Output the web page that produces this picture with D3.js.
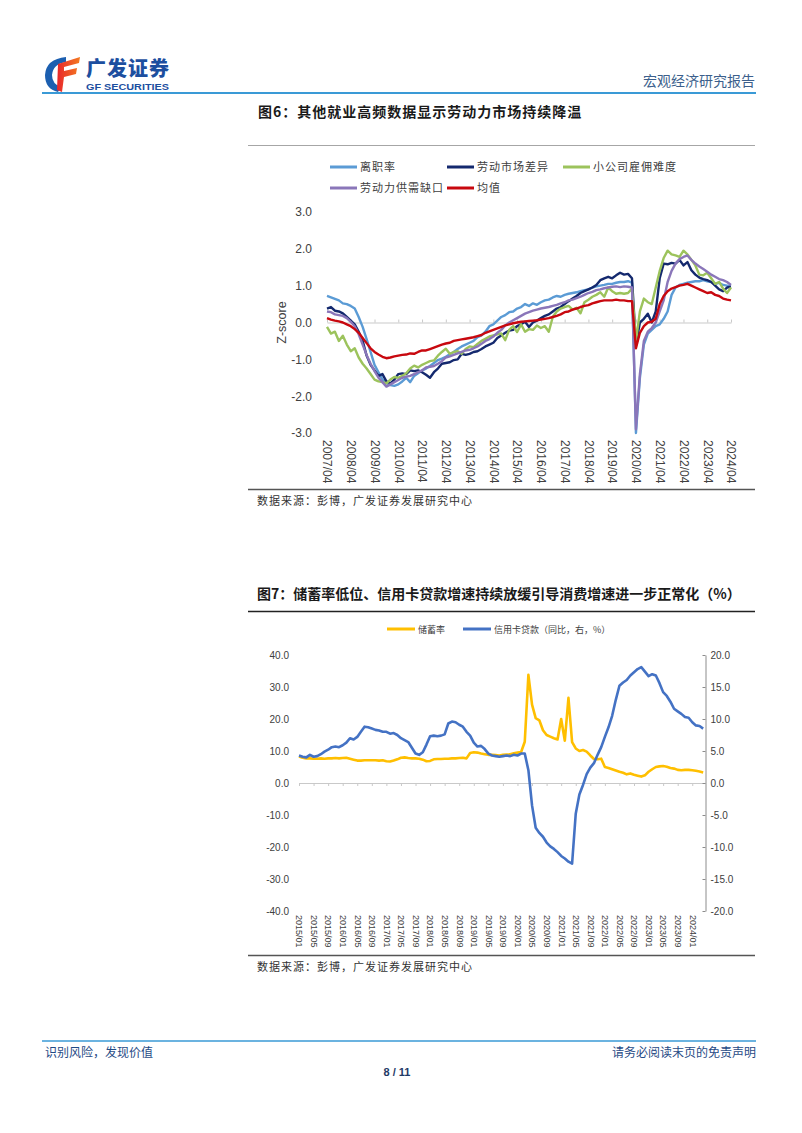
<!DOCTYPE html>
<html><head><meta charset="utf-8">
<script src="https://cdn.jsdelivr.net/npm/d3@7"></script>
<style>body{margin:0;background:#fff}svg{display:block}</style>
</head><body>
<svg id="page" width="802" height="1133"></svg>
<script>
// ---------- Figure 6 data (bimonthly from 2007/04 to 2024/04) ----------
const fig6TickLabels = ["2007/04","2008/04","2009/04","2010/04","2011/04","2012/04","2013/04","2014/04","2015/04","2016/04","2017/04","2018/04","2019/04","2020/04","2021/04","2022/04","2023/04","2024/04"];
const fig6Names = ["离职率","劳动市场差异","小公司雇佣难度","劳动力供需缺口","均值"];
const quitRate = [0.72,0.68,0.64,0.60,0.52,0.50,0.45,0.38,0.15,-0.12,
 -0.45,-0.80,-1.15,-1.35,-1.55,-1.65,-1.70,-1.72,-1.68,-1.60,
 -1.50,-1.62,-1.45,-1.38,-1.30,-1.25,-1.18,-1.10,-1.02,-0.98,
 -0.93,-0.86,-0.80,-0.72,-0.65,-0.60,-0.55,-0.50,-0.40,-0.35,
 -0.25,-0.10,-0.05,0.05,0.15,0.20,0.28,0.30,0.38,0.42,
 0.50,0.45,0.52,0.48,0.55,0.60,0.62,0.68,0.72,0.70,
 0.75,0.78,0.80,0.82,0.85,0.88,0.90,0.95,0.98,1.00,
 1.02,1.05,1.05,1.08,1.10,1.10,1.12,1.08,-3.00,-1.50,
 -0.60,-0.30,-0.20,-0.10,-0.05,0.10,0.30,0.75,0.95,1.02,
 1.05,1.08,1.10,1.12,1.12,1.15,1.12,1.10,1.05,1.08,
 1.02,1.00,0.98];
const laborDiff = [0.38,0.42,0.32,0.30,0.25,0.15,0.05,-0.05,-0.25,-0.50,
 -0.90,-1.15,-1.30,-1.45,-1.40,-1.60,-1.65,-1.55,-1.40,-1.38,
 -1.40,-1.30,-1.32,-1.30,-1.35,-1.42,-1.50,-1.35,-1.25,-1.12,
 -1.10,-1.08,-1.02,-1.00,-0.85,-0.88,-0.85,-0.80,-0.78,-0.72,
 -0.65,-0.60,-0.55,-0.42,-0.35,-0.28,-0.22,-0.20,-0.10,-0.05,
 0.02,-0.12,0.00,0.05,0.12,0.18,0.22,0.30,0.38,0.42,
 0.50,0.58,0.65,0.72,0.80,0.85,0.90,0.95,1.02,1.15,
 1.20,1.24,1.20,1.28,1.35,1.30,1.32,1.20,-0.60,0.00,
 0.10,0.24,0.00,0.30,1.20,1.60,1.58,1.62,1.60,1.70,
 1.55,1.64,1.42,1.30,1.22,1.18,1.15,1.10,1.00,0.90,
 0.85,0.95,0.97];
const smallBizHiring = [-0.12,-0.30,-0.25,-0.50,-0.36,-0.60,-0.78,-0.70,-0.95,-1.12,
 -1.25,-1.40,-1.55,-1.60,-1.62,-1.65,-1.55,-1.48,-1.50,-1.45,
 -1.38,-1.25,-1.17,-1.22,-1.15,-1.10,-1.05,-1.03,-0.90,-0.80,
 -0.71,-0.85,-0.80,-0.78,-0.85,-0.72,-0.65,-0.67,-0.58,-0.50,
 -0.44,-0.38,-0.35,-0.32,-0.30,-0.48,-0.20,-0.10,-0.26,-0.05,
 -0.25,-0.18,-0.20,-0.08,-0.15,-0.10,-0.25,0.15,0.30,0.38,
 0.42,0.45,0.35,0.40,0.25,0.55,0.62,0.70,0.75,0.82,
 0.70,0.95,0.85,0.78,0.80,0.78,0.80,0.92,-0.50,0.30,
 0.65,0.55,0.50,0.95,1.40,1.75,1.95,1.85,1.82,1.78,
 1.95,1.85,1.70,1.55,1.30,1.28,1.35,1.20,1.05,1.10,
 0.92,0.80,0.95];
const laborGap = [0.30,0.28,0.22,0.20,0.18,0.12,0.02,-0.10,-0.32,-0.60,
 -0.88,-1.12,-1.32,-1.50,-1.62,-1.74,-1.68,-1.62,-1.56,-1.50,
 -1.47,-1.45,-1.40,-1.35,-1.30,-1.22,-1.20,-1.18,-1.12,-1.05,
 -0.95,-0.92,-0.88,-0.84,-0.80,-0.76,-0.74,-0.70,-0.65,-0.58,
 -0.50,-0.45,-0.38,-0.28,-0.20,-0.08,0.00,0.06,0.12,0.18,
 0.24,0.28,0.32,0.35,0.38,0.40,0.42,0.45,0.48,0.52,
 0.55,0.60,0.62,0.66,0.70,0.75,0.80,0.83,0.88,0.90,
 0.93,0.95,0.97,0.98,0.96,0.98,0.97,0.95,-2.90,-1.40,
 -0.50,-0.25,-0.15,0.00,0.30,0.60,1.10,1.40,1.60,1.72,
 1.78,1.82,1.70,1.60,1.52,1.45,1.38,1.30,1.24,1.18,
 1.15,1.10,1.02];
const meanScore = [0.12,0.08,0.05,0.03,0.00,-0.05,-0.10,-0.18,-0.28,-0.42,
 -0.56,-0.70,-0.80,-0.87,-0.93,-0.97,-0.95,-0.92,-0.90,-0.88,
 -0.87,-0.84,-0.85,-0.80,-0.76,-0.76,-0.72,-0.68,-0.64,-0.60,
 -0.57,-0.55,-0.50,-0.48,-0.46,-0.44,-0.42,-0.40,-0.37,-0.34,
 -0.28,-0.24,-0.20,-0.16,-0.12,-0.08,-0.05,-0.02,0.00,0.02,
 0.03,0.04,0.05,0.06,0.08,0.10,0.12,0.15,0.18,0.22,
 0.28,0.30,0.35,0.38,0.42,0.45,0.47,0.52,0.55,0.58,
 0.60,0.60,0.60,0.62,0.60,0.60,0.58,0.58,-0.70,-0.28,
 -0.10,0.00,0.02,0.10,0.50,0.72,0.85,0.92,0.96,1.00,
 1.02,1.05,1.00,0.95,0.90,0.85,0.80,0.82,0.75,0.72,
 0.65,0.62,0.60];
const fig6Colors = ["#5b9bd5","#14296e","#9cc35c","#8a76b9","#c8080f"];
const fig6YTicks = [3,2,1,0,-1,-2,-3];

// ---------- Figure 7 data (monthly from 2015/01 to 2024/04) ----------
const fig7TickLabels = ["2015/01","2015/05","2015/09","2016/01","2016/05","2016/09","2017/01","2017/05","2017/09","2018/01","2018/05","2018/09","2019/01","2019/05","2019/09","2020/01","2020/05","2020/09","2021/01","2021/05","2021/09","2022/01","2022/05","2022/09","2023/01","2023/05","2023/09","2024/01"];
const fig7Names = ["储蓄率","信用卡贷款（同比，右，%）"];
const savingRate = [8.3,7.9,7.7,7.7,7.6,7.6,7.7,7.6,7.7,7.7,7.8,7.7,
 7.8,7.9,7.6,7.3,7.0,7.0,7.1,7.1,7.1,7.1,7.0,7.1,
 6.8,6.7,7.0,7.4,7.9,8.0,7.8,7.7,7.7,7.6,7.3,6.8,
 6.9,7.4,7.5,7.5,7.6,7.6,7.7,7.7,7.8,7.9,7.7,9.4,
 9.6,9.5,9.2,9.0,8.8,8.8,8.7,8.6,8.8,8.9,9.0,9.3,
 9.5,9.7,12.9,33.8,24.5,20.3,19.6,16.5,15.0,14.5,14.0,13.6,
 20.0,13.2,26.6,12.8,10.8,10.0,10.3,9.8,8.6,7.5,7.4,7.6,
 5.0,4.7,4.3,3.9,3.5,3.2,2.7,3.0,2.6,2.3,2.0,2.4,
 3.5,4.3,5.0,5.2,5.3,5.1,4.7,4.5,4.1,4.0,4.1,4.1,
 4.0,3.8,3.6,3.3];
const creditCardYoY = [4.3,4.1,4.0,4.4,4.1,4.2,4.5,4.9,5.2,5.6,5.7,5.6,
 5.9,6.3,7.0,6.8,7.2,8.0,8.8,8.7,8.5,8.3,8.2,8.0,
 8.0,7.7,7.8,7.5,7.0,6.7,6.4,5.5,4.6,4.4,4.8,6.0,
 7.3,7.4,7.3,7.4,7.6,9.3,9.6,9.5,9.1,8.8,8.0,7.4,
 6.3,5.7,5.8,5.3,4.6,4.3,4.2,4.1,4.2,4.3,4.2,4.4,
 4.3,4.6,4.6,2.0,-3.5,-7.0,-7.8,-8.4,-9.3,-9.9,-10.3,-10.8,
 -11.4,-11.8,-12.3,-12.6,-4.8,-1.8,-0.3,1.4,2.4,3.1,4.4,5.6,
 7.2,8.7,10.5,13.0,15.2,15.7,16.1,16.8,17.3,17.8,18.1,17.4,
 16.7,17.0,16.8,15.6,14.2,13.6,12.7,11.6,11.2,10.8,10.3,10.2,
 9.5,9.0,8.9,8.5];
const fig7Colors = ["#ffbf00","#4472c4"];
const fig7LeftTicks = [40,30,20,10,0,-10,-20,-30,-40];
const fig7RightTicks = [20,15,10,5,0,-5,-10,-15,-20];

// ---------- page ----------
const CJK = "'Noto Sans CJK SC','Noto Sans',sans-serif";
const LAT = "'Liberation Sans',Arial,sans-serif";
const svg = d3.select("#page");
const fmt1 = v => v.toFixed(1);

// header logo
const logo = svg.append("g");
const grad = svg.append("defs").append("linearGradient").attr("id","lg").attr("x1","0").attr("y1","0").attr("x2","1").attr("y2","0");
grad.append("stop").attr("offset","0").attr("stop-color","#e8262b");
grad.append("stop").attr("offset","1").attr("stop-color","#f47a20");
logo.append("path").attr("d","M66 57 Q46 59 45 75 Q45 89 58 92 L61 87 Q52 84 52 75 Q53 64 66 62 Z").attr("fill","#1c5fb0");
logo.append("path").attr("d","M58 64 L80 57 L79 63 L64 67 L64 71 L77 68 L76 74 L64 77 L62 92 L57 90 Z").attr("fill","url(#lg)");
svg.append("text").attr("x",86).attr("y",76).attr("font-family",CJK).attr("font-weight",900).attr("font-size",20).attr("fill","#1d4f9f").attr("textLength",83).text("广发证券");
svg.append("text").attr("x",86).attr("y",90).attr("font-family",LAT).attr("font-weight",700).attr("font-size",9).attr("fill","#1d4f9f").attr("textLength",83).attr("lengthAdjust","spacingAndGlyphs").text("GF SECURITIES");
svg.append("text").attr("x",755).attr("y",86).attr("text-anchor","end").attr("font-family",CJK).attr("font-size",14).attr("fill","#3c5f8c").text("宏观经济研究报告");
svg.append("line").attr("x1",42).attr("x2",756).attr("y1",93).attr("y2",93).attr("stroke","#3a9ad6").attr("stroke-width",2);

// titles
svg.append("text").attr("x",258).attr("y",117).attr("font-family",CJK).attr("font-weight",700).attr("font-size",14).attr("letter-spacing",1).attr("fill","#1a1a1a").text("图6：其他就业高频数据显示劳动力市场持续降温");
svg.append("text").attr("x",257).attr("y",599).attr("font-family",CJK).attr("font-weight",700).attr("font-size",14).attr("fill","#1a1a1a").text("图7：储蓄率低位、信用卡贷款增速持续放缓引导消费增速进一步正常化（%）");

// ---------- Figure 6 ----------
svg.append("line").attr("x1",248).attr("x2",755).attr("y1",145.5).attr("y2",145.5).attr("stroke","#a6a6a6").attr("stroke-width",1);
svg.append("line").attr("x1",248).attr("x2",755).attr("y1",489.5).attr("y2",489.5).attr("stroke","#555").attr("stroke-width",1.3);
svg.append("text").attr("x",257).attr("y",505).attr("font-family",CJK).attr("font-size",11).attr("letter-spacing",1).attr("fill","#333").text("数据来源：彭博，广发证券发展研究中心");

const x6 = d3.scaleLinear().domain([0,204]).range([327,731]);
const y6 = d3.scaleLinear().domain([-3,3]).range([433,212]);
const g6 = svg.append("g");

// zero line with year ticks
const zeroAxis6 = d3.axisTop(x6).tickValues(fig6TickLabels.map((d,i)=>i*12)).tickSize(3).tickSizeOuter(0).tickFormat("");
const za6 = g6.append("g").attr("transform",`translate(0,${y6(0)})`).call(zeroAxis6);
za6.selectAll("path,line").attr("stroke","#c9c9c9");

// y labels
const yAxis6 = d3.axisLeft(y6).tickValues(fig6YTicks).tickSize(0).tickPadding(0).tickFormat(fmt1);
const ya6 = g6.append("g").attr("transform","translate(312,0)").call(yAxis6);
ya6.select(".domain").remove();
ya6.selectAll("text").attr("font-family",LAT).attr("font-size",12).attr("fill","#404040");
g6.append("text").attr("transform",`translate(286,${y6(0)}) rotate(-90)`).attr("text-anchor","middle").attr("font-family",LAT).attr("font-size",12.5).attr("fill","#404040").text("Z-score");

// x labels rotated
const xAxis6 = d3.axisBottom(x6).tickValues(fig6TickLabels.map((d,i)=>i*12)).tickSize(0).tickFormat((d,i)=>fig6TickLabels[i]);
const xa6 = g6.append("g").attr("transform","translate(0,440)").call(xAxis6);
xa6.select(".domain").remove();
xa6.selectAll("text").attr("font-family",LAT).attr("font-size",12).attr("fill","#404040")
  .attr("y",0).attr("x",0).attr("dy","0.35em").attr("text-anchor","start").attr("transform","rotate(90)");

const fig6Data = [quitRate, laborDiff, smallBizHiring, laborGap, meanScore];
const line6 = d3.line().x((d,i)=>x6(i*2)).y(d=>y6(d)).curve(d3.curveLinear);
fig6Data.forEach((s,k)=>{
  g6.append("path").datum(s).attr("d",line6).attr("fill","none").attr("stroke",fig6Colors[k]).attr("stroke-width",2.4).attr("stroke-linejoin","round");
});

// legend fig6
const leg6 = [{x:330,y:167},{x:447,y:167},{x:563,y:167},{x:330,y:188},{x:447,y:188}];
leg6.forEach((p,k)=>{
  g6.append("line").attr("x1",p.x).attr("x2",p.x+27).attr("y1",p.y).attr("y2",p.y).attr("stroke",fig6Colors[k]).attr("stroke-width",3);
  g6.append("text").attr("x",p.x+30).attr("y",p.y+4).attr("font-family",CJK).attr("font-size",11).attr("letter-spacing",1).attr("fill","#404040").text(fig6Names[k]);
});

// ---------- Figure 7 ----------
svg.append("line").attr("x1",248).attr("x2",755).attr("y1",611.5).attr("y2",611.5).attr("stroke","#222").attr("stroke-width",1.5);
svg.append("line").attr("x1",248).attr("x2",755).attr("y1",955.5).attr("y2",955.5).attr("stroke","#555").attr("stroke-width",1.3);
svg.append("text").attr("x",257).attr("y",971).attr("font-family",CJK).attr("font-size",11).attr("letter-spacing",1).attr("fill","#333").text("数据来源：彭博，广发证券发展研究中心");

const x7 = d3.scaleLinear().domain([0,111.5]).range([299,705]);
const yL = d3.scaleLinear().domain([-40,40]).range([911,655]);
const yR = d3.scaleLinear().domain([-20,20]).range([911,655]);
const g7 = svg.append("g");

// zero line with ticks
const zeroAxis7 = d3.axisBottom(x7).tickValues(fig7TickLabels.map((d,i)=>i*4)).tickSize(3).tickSizeOuter(0).tickFormat("");
const za7 = g7.append("g").attr("transform",`translate(0,${yL(0)})`).call(zeroAxis7);
za7.selectAll("path,line").attr("stroke","#c9c9c9");

// left axis labels
const yAxL = d3.axisLeft(yL).tickValues(fig7LeftTicks).tickSize(0).tickPadding(0).tickFormat(fmt1);
const yl = g7.append("g").attr("transform","translate(289,0)").call(yAxL);
yl.select(".domain").remove();
yl.selectAll("text").attr("font-family",LAT).attr("font-size",10).attr("fill","#404040");

// right axis
const yAxR = d3.axisRight(yR).tickValues(fig7RightTicks).tickSizeInner(-3).tickSizeOuter(0).tickPadding(5).tickFormat(fmt1);
const yr = g7.append("g").attr("transform","translate(705.5,0)").call(yAxR);
yr.selectAll("path,line").attr("stroke","#8c8c8c");
yr.selectAll("text").attr("font-family",LAT).attr("font-size",10).attr("fill","#404040");

// x labels rotated
const xAxis7 = d3.axisBottom(x7).tickValues(fig7TickLabels.map((d,i)=>i*4)).tickSize(0).tickFormat((d,i)=>fig7TickLabels[i]);
const xa7 = g7.append("g").attr("transform","translate(0,915)").call(xAxis7);
xa7.select(".domain").remove();
xa7.selectAll("text").attr("font-family",LAT).attr("font-size",9).attr("fill","#404040")
  .attr("y",0).attr("x",0).attr("dy","0.35em").attr("text-anchor","start").attr("transform","rotate(90)");

const lineL = d3.line().x((d,i)=>x7(i)).y(d=>yL(d));
const lineR = d3.line().x((d,i)=>x7(i)).y(d=>yR(d));
g7.append("path").datum(savingRate).attr("d",lineL).attr("fill","none").attr("stroke",fig7Colors[0]).attr("stroke-width",2.6).attr("stroke-linejoin","round");
g7.append("path").datum(creditCardYoY).attr("d",lineR).attr("fill","none").attr("stroke",fig7Colors[1]).attr("stroke-width",2.6).attr("stroke-linejoin","round");

// legend fig7
const leg7 = [{x:387,y:629},{x:463,y:629}];
leg7.forEach((p,k)=>{
  g7.append("line").attr("x1",p.x).attr("x2",p.x+28).attr("y1",p.y).attr("y2",p.y).attr("stroke",fig7Colors[k]).attr("stroke-width",3);
  g7.append("text").attr("x",p.x+31).attr("y",p.y+3.5).attr("font-family",CJK).attr("font-size",9).attr("fill","#404040").text(fig7Names[k]);
});

// footer
svg.append("line").attr("x1",42).attr("x2",756).attr("y1",1041).attr("y2",1041).attr("stroke","#3a9ad6").attr("stroke-width",1.5);
svg.append("text").attr("x",45).attr("y",1057).attr("font-family",CJK).attr("font-size",12).attr("fill","#1f4a85").text("识别风险，发现价值");
svg.append("text").attr("x",756).attr("y",1057).attr("text-anchor","end").attr("font-family",CJK).attr("font-size",12).attr("fill","#1f4a85").text("请务必阅读末页的免责声明");
svg.append("text").attr("x",397).attr("y",1076).attr("text-anchor","middle").attr("font-family",LAT).attr("font-weight",700).attr("font-size",11).attr("fill","#1f3a66").text("8 / 11");
</script>
</body></html>
